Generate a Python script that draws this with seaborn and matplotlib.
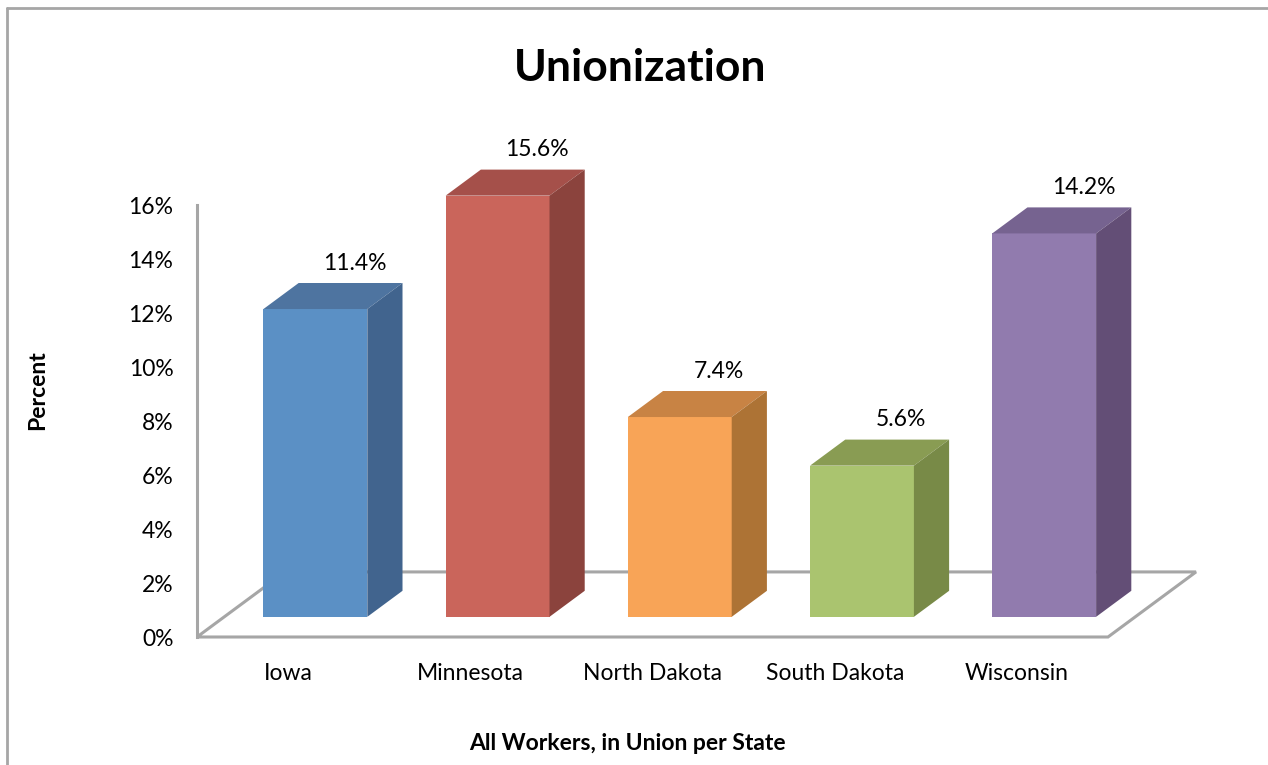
import numpy as np
import pandas as pd
import matplotlib
matplotlib.use("Agg")
import matplotlib.pyplot as plt
import matplotlib.transforms as mtransforms
from matplotlib.patches import Polygon
from matplotlib.lines import Line2D
import seaborn as sns

# ---- data ----
states = ["Iowa", "Minnesota", "North Dakota", "South Dakota", "Wisconsin"]
union_pct = [11.4, 15.6, 7.4, 5.6, 14.2]
value_labels = ["11.4%", "15.6%", "7.4%", "5.6%", "14.2%"]
y_ticks = [0, 2, 4, 6, 8, 10, 12, 14, 16]
y_tick_labels = ["0%", "2%", "4%", "6%", "8%", "10%", "12%", "14%", "16%"]

front_colors = ["#5B90C5", "#CA655B", "#F8A457", "#AAC46F", "#917BAE"]
side_colors = ["#41648E", "#8B433D", "#AD7335", "#788A47", "#634E76"]
top_colors = ["#4E74A0", "#A5504A", "#C88344", "#899C53", "#766390"]

# ---- style ----
sns.set_theme(style="white")
plt.rcParams['font.family'] = ['Lato', 'DejaVu Sans']
plt.rcParams['text.color'] = 'black'
plt.rcParams['axes.labelcolor'] = 'black'
plt.rcParams['xtick.color'] = 'black'
plt.rcParams['ytick.color'] = 'black'
GRAY = "#A6A6A6"
FS = 16.5

fig = plt.figure(figsize=(12.68, 7.65), dpi=100)
fig.patch.set_facecolor("white")
ax = fig.add_axes([197 / 1268, 1 - 637 / 765, (1108 - 197) / 1268, (637 - 205) / 765])

df = pd.DataFrame({"state": states, "pct": union_pct})
sns.barplot(data=df, x="state", y="pct", hue="state", palette=front_colors,
            saturation=1, width=0.57, legend=False, ax=ax, zorder=3,
            edgecolor="none", linewidth=0)

ax.set_xlim(-0.5, 4.5)
ax.set_ylim(0, 16)

# depth vector of the floor (data units), front / back fractions of bars
Dx, Dy = 0.483, 2.41
f0, f1 = 0.31, 0.71

# floor outline
floor = Polygon([(-0.5, 0), (4.5, 0), (4.5 + Dx, Dy), (-0.5 + Dx, Dy)],
                closed=True, facecolor="none", edgecolor=GRAY, linewidth=2.2,
                zorder=1, clip_on=False)
ax.add_patch(floor)

shift = mtransforms.Affine2D().translate(f0 * Dx, f0 * Dy) + ax.transData
patches = [p for c in ax.containers for p in c]
for i, p in enumerate(patches):
    p.set_transform(shift)
    p.set_clip_on(False)
    x0, w, h = p.get_x(), p.get_width(), p.get_height()
    top = Polygon([(x0 + f0 * Dx, h + f0 * Dy), (x0 + w + f0 * Dx, h + f0 * Dy),
                   (x0 + w + f1 * Dx, h + f1 * Dy), (x0 + f1 * Dx, h + f1 * Dy)],
                  closed=True, facecolor=top_colors[i], edgecolor="none",
                  zorder=3, clip_on=False)
    side = Polygon([(x0 + w + f0 * Dx, f0 * Dy), (x0 + w + f1 * Dx, f1 * Dy),
                    (x0 + w + f1 * Dx, h + f1 * Dy), (x0 + w + f0 * Dx, h + f0 * Dy)],
                   closed=True, facecolor=side_colors[i], edgecolor="none",
                   zorder=3, clip_on=False)
    ax.add_patch(top)
    ax.add_patch(side)
    ax.annotate(value_labels[i], xy=(x0 + w / 2 + f1 * Dx, h + f1 * Dy),
                xytext=(4, 20), textcoords="offset pixels",
                ha="center", va="center", fontsize=FS, color="black",
                annotation_clip=False)

# axes styling
for s in ["top", "right", "bottom"]:
    ax.spines[s].set_visible(False)
ax.spines["left"].set_color(GRAY)
ax.spines["left"].set_linewidth(2.2)
ax.set_yticks(y_ticks, y_tick_labels)
ax.tick_params(axis="y", length=0, pad=17, labelsize=FS, labelcolor="black")
ax.tick_params(axis="x", length=0, pad=19, labelsize=FS, labelcolor="black")
ax.set_xlabel("")
ax.set_ylabel("")
ax.set_facecolor("none")
ax.grid(False)

# titles
fig.text(640 / 1268, 1 - 68 / 765, "Unionization", ha="center", va="center",
         fontsize=32, fontweight="bold", color="black")
fig.text(38 / 1268, 1 - 390 / 765, "Percent", ha="center", va="center",
         rotation=90, fontsize=FS, fontweight="bold", color="black")
fig.text(627 / 1268, 1 - 744 / 765, "All Workers, in Union per State",
         ha="center", va="center", fontsize=FS, fontweight="bold", color="black")

# chart-area border (top and left visible)
fig.add_artist(Line2D([7 / 1268, 1.0], [1 - 8 / 765, 1 - 8 / 765],
                      color=GRAY, linewidth=2, transform=fig.transFigure))
fig.add_artist(Line2D([7 / 1268, 7 / 1268], [0.0, 1 - 8 / 765],
                      color=GRAY, linewidth=2, transform=fig.transFigure))

fig.savefig("out.png", dpi=100)
